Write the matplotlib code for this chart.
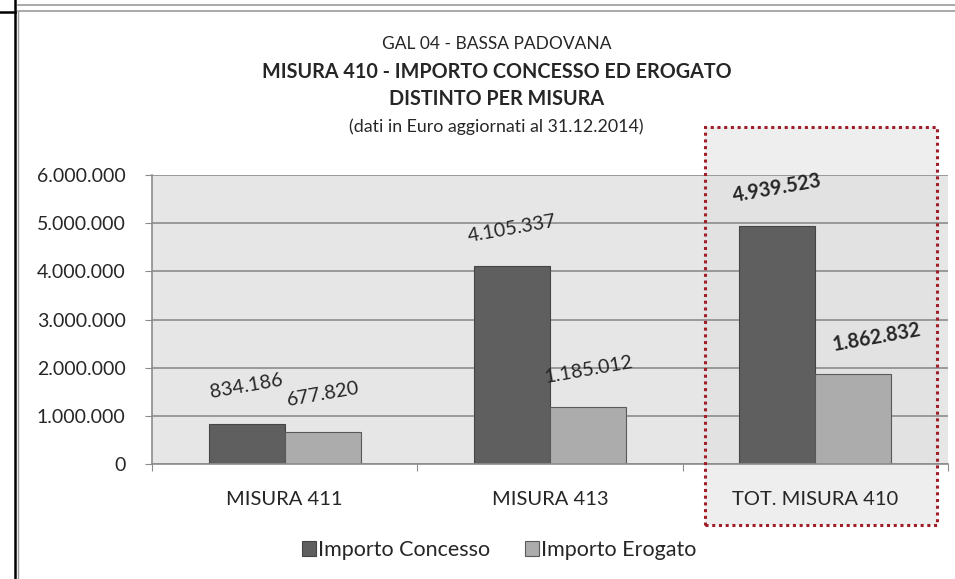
import matplotlib
matplotlib.use("Agg")
import matplotlib.pyplot as plt
import matplotlib.ticker as mticker
from matplotlib.lines import Line2D
from matplotlib.patches import Rectangle
import numpy as np

# ── data ─────────────────────────────────────────────────────────────────────
categories = ["MISURA 411", "MISURA 413", "TOT. MISURA 410"]
concesso = [834186, 4105337, 4939523]
erogato = [677820, 1185012, 1862832]
series_names = ["Importo Concesso", "Importo Erogato"]
title_lines = [
    "GAL 04 - BASSA PADOVANA",
    "MISURA 410 - IMPORTO CONCESSO ED EROGATO",
    "DISTINTO PER MISURA",
    "(dati in Euro aggiornati al 31.12.2014)",
]

FONT = ["Lato", "DejaVu Sans"]
plt.rcParams["font.family"] = FONT
TXT = "#262626"
DARK = "#5f5f5f"
LIGHT = "#acacac"


def fmt_it(v, pos=None):
    return f"{int(round(v)):,}".replace(",", ".")


fig = plt.figure(figsize=(9.55, 5.79), dpi=100)
ax = fig.add_axes([0.1592, 0.1981, 0.8335, 0.4997])
ax.set_facecolor("#e6e6e6")

x = np.arange(len(categories))
w = 0.2865
ax.bar(x - w / 2, concesso, width=w, color=DARK, edgecolor="#454545", linewidth=0.8,
       label=series_names[0], zorder=2)
ax.bar(x + w / 2, erogato, width=w, color=LIGHT, edgecolor="#5a5a5a", linewidth=0.8,
       label=series_names[1], zorder=2)

# data labels, slightly rotated as in the original
for i in range(len(categories)):
    bold = i == len(categories) - 1
    for xs, vals, dx in ((x - w / 2, concesso, 0), (x + w / 2, erogato, 17 if bold else 0)):
        ax.annotate(fmt_it(vals[i]), (xs[i], vals[i]), xytext=(dx, 27),
                    textcoords="offset points", ha="center", va="center",
                    rotation=10, fontsize=14.2, color=TXT,
                    fontweight="bold" if bold else "normal", zorder=4)

ax.set_xlim(-0.5, len(categories) - 0.5)
ax.set_ylim(0, 6_000_000)
ax.yaxis.set_major_locator(mticker.MultipleLocator(1_000_000))
ax.yaxis.set_major_formatter(mticker.FuncFormatter(fmt_it))
ax.set_axisbelow(True)
ax.grid(axis="y", color="#8c8c8c", linewidth=1.2)

ax.set_xticks(np.arange(-0.5, len(categories), 1.0))
ax.set_xticklabels([])
ax.set_xticks(x, minor=True)
ax.set_xticklabels(categories, minor=True)
ax.tick_params(axis="x", which="major", length=5, color="#8c8c8c")
ax.tick_params(axis="x", which="minor", length=0, pad=19, labelsize=14.5, labelcolor=TXT)
ax.tick_params(axis="y", length=5, color="#8c8c8c", pad=14, labelsize=14, labelcolor=TXT)

for side in ("top", "right"):
    ax.spines[side].set_visible(False)
for side in ("left", "bottom"):
    ax.spines[side].set_color("#8c8c8c")
    ax.spines[side].set_linewidth(1.2)

# highlight box around the total
hl = Rectangle((1.584, -1_260_000), 0.875, 8_260_000, facecolor="#e0e0e0", alpha=0.52,
               edgecolor="none", clip_on=False, zorder=0.3)
ax.add_patch(hl)
box = Rectangle((1.584, -1_260_000), 0.875, 8_260_000, facecolor="none",
                edgecolor="#a01e28", linestyle=(0, (1, 1.2)), linewidth=2.2,
                clip_on=False, zorder=5)
ax.add_patch(box)

# titles
fig.text(0.520, 0.924, title_lines[0], ha="center", va="center", fontsize=12.5, color=TXT)
fig.text(0.520, 0.876, title_lines[1], ha="center", va="center", fontsize=14.2,
         fontweight="bold", color=TXT)
fig.text(0.520, 0.829, title_lines[2], ha="center", va="center", fontsize=14.2,
         fontweight="bold", color=TXT)
fig.text(0.520, 0.782, title_lines[3], ha="center", va="center", fontsize=12.8, color=TXT)

ax.legend(loc="center", bbox_to_anchor=(0.523, 0.050), bbox_transform=fig.transFigure,
          ncol=2, frameon=False, fontsize=15.5, handlelength=0.65, handleheight=0.65,
          handletextpad=0.1, columnspacing=1.6, labelcolor=TXT)

# frame lines of the original sheet
W, H = 955, 579
def fline(x0, y0, x1, y1, c, lw):
    fig.add_artist(Line2D([x0 / W, x1 / W], [1 - y0 / H, 1 - y1 / H], color=c,
                          linewidth=lw, transform=fig.transFigure))

fline(15, 0, 15, H, "black", 1.8)
fline(0, 12, 15, 12, "black", 1.8)
fline(18, 12, 18, H, "#9a9a9a", 1.0)
fline(18, 5, W, 5, "#9a9a9a", 1.2)
fline(18, 11, W, 11, "#9a9a9a", 1.2)

fig.savefig("out.png", dpi=100)
